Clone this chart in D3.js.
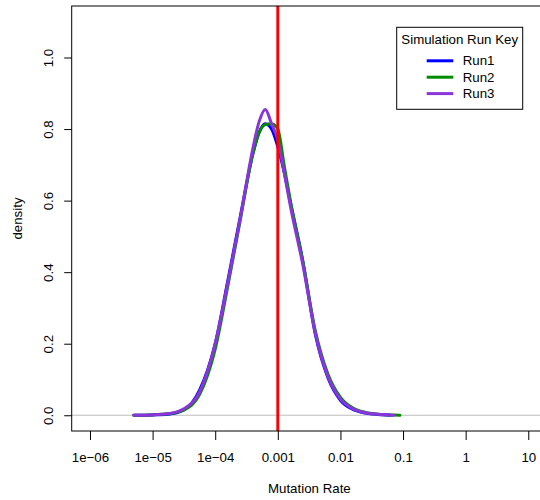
<!DOCTYPE html>
<html lang="en">
<head>
	<meta charset="utf-8">
	<title>Mutation Rate density</title>
	<script src="https://d3js.org/d3.v7.min.js"></script>
	<style>
		body { margin: 0; background: #fff; }
		svg text { font-family: "Liberation Sans", Arial, Helvetica, sans-serif; font-size: 13.3px; fill: #000; }
	</style>
</head>
<body>
	<div id="chart"></div>
	<script>
		// log10 of mutation rate where the densities were read
		var logRate = [-5.3, -5.0, -4.75, -4.5, -4.25, -4.0, -3.8, -3.6, -3.4, -3.3, -3.2, -3.1, -3.0, -2.9, -2.8, -2.6, -2.4, -2.2, -2.0, -1.8, -1.6, -1.4, -1.2, -1.15, -1.05];
		var run1 = [0.0, 0.001, 0.003, 0.015, 0.07, 0.2, 0.375, 0.555, 0.73, 0.79, 0.815, 0.8, 0.75, 0.68, 0.595, 0.43, 0.225, 0.105, 0.042, 0.016, 0.006, 0.002, 0.0, null, null];
		var run2 = [0.0, 0.001, 0.004, 0.015, 0.058, 0.185, 0.36, 0.545, 0.73, 0.79, 0.813, 0.815, 0.8, 0.7, 0.6, 0.43, 0.235, 0.115, 0.05, 0.02, 0.008, 0.003, 0.001, 0.001, 0.0];
		var run3 = [0.0, 0.001, 0.004, 0.018, 0.065, 0.2, 0.37, 0.55, 0.745, 0.82, 0.855, 0.815, 0.77, 0.68, 0.585, 0.42, 0.228, 0.108, 0.045, 0.018, 0.007, 0.003, 0.001, 0.0, null];
		var runNames = ["Run1", "Run2", "Run3"];
		var runColors = ["#0000ff", "#008b00", "#8a35db"];
		var xTickValues = [1e-6, 1e-5, 1e-4, 1e-3, 1e-2, 1e-1, 1, 10];
		var xTickLabels = ["1e\u221206", "1e\u221205", "1e\u221204", "0.001", "0.01", "0.1", "1", "10"];
		var yTickValues = [0, 0.2, 0.4, 0.6, 0.8, 1.0];
		var refRate = 0.001;

		const width = 540;
		const height = 500;
		const plotLeft = 71.7, plotRight = 547, plotTop = 6, plotBottom = 431;

		var svg = d3.select("#chart")
					.append("svg")
					.attr("width", width)
					.attr("height", height);

		var x = d3.scaleLog()
				  .domain([Math.pow(10, -6.292), Math.pow(10, 1.299)])
				  .range([plotLeft, plotRight]);
		var y = d3.scaleLinear()
				  .domain([-0.044, 1.144])
				  .range([plotBottom, plotTop]);

		// zero reference line
		svg.append("line")
		   .attr("x1", plotLeft).attr("x2", plotRight)
		   .attr("y1", y(0)).attr("y2", y(0))
		   .attr("stroke", "#bebebe")
		   .attr("stroke-width", 1);

		var line = d3.line()
					 .defined(function(d) { return d[1] !== null; })
					 .x(function(d) { return x(Math.pow(10, d[0])); })
					 .y(function(d) { return y(d[1]); })
					 .curve(d3.curveMonotoneX);

		[run1, run2, run3].forEach(function(run, i) {
			svg.append("path")
			   .datum(logRate.map(function(l, j) { return [l, run[j]]; }))
			   .attr("fill", "none")
			   .attr("stroke", runColors[i])
			   .attr("stroke-width", 3)
			   .attr("stroke-linejoin", "round")
			   .attr("stroke-linecap", "round")
			   .attr("d", line);
		});

		// reference mutation rate
		svg.append("line")
		   .attr("x1", x(refRate)).attr("x2", x(refRate))
		   .attr("y1", plotTop).attr("y2", plotBottom)
		   .attr("stroke", "#ff0000")
		   .attr("stroke-width", 3);

		// plot frame
		svg.append("rect")
		   .attr("x", plotLeft).attr("y", plotTop)
		   .attr("width", plotRight - plotLeft).attr("height", plotBottom - plotTop)
		   .attr("fill", "none")
		   .attr("stroke", "#000")
		   .attr("stroke-width", 1);

		var xAxis = d3.axisBottom(x)
					  .tickValues(xTickValues)
					  .tickFormat(function(d, i) { return xTickLabels[i]; })
					  .tickSize(9)
					  .tickPadding(12.5);
		var gx = svg.append("g")
					.attr("transform", "translate(0," + plotBottom + ")")
					.call(xAxis);
		gx.select(".domain").remove();
		gx.attr("font-size", null).attr("font-family", null);

		var yAxis = d3.axisLeft(y)
					  .tickValues(yTickValues)
					  .tickFormat(d3.format(".1f"))
					  .tickSize(7.5);
		var gy = svg.append("g")
					.attr("transform", "translate(" + plotLeft + ",0)")
					.call(yAxis);
		gy.select(".domain").remove();
		gy.attr("font-size", null).attr("font-family", null);
		gy.selectAll("text")
		  .attr("x", null).attr("dy", null)
		  .attr("text-anchor", "middle")
		  .attr("transform", "translate(-18.7,0) rotate(-90)");

		svg.append("text")
		   .attr("x", (plotLeft + plotRight) / 2)
		   .attr("y", 493)
		   .attr("text-anchor", "middle")
		   .text("Mutation Rate");
		svg.append("text")
		   .attr("text-anchor", "middle")
		   .attr("transform", "translate(22," + ((plotTop + plotBottom) / 2) + ") rotate(-90)")
		   .text("density");

		// legend
		var legend = svg.append("g").attr("transform", "translate(396.7,27.3)");
		legend.append("rect")
			  .attr("width", 126).attr("height", 82)
			  .attr("fill", "#fff")
			  .attr("stroke", "#000");
		legend.append("text")
			  .attr("x", 63).attr("y", 17)
			  .attr("text-anchor", "middle")
			  .text("Simulation Run Key");
		runNames.forEach(function(name, i) {
			var ly = 33.5 + i * 16.4;
			legend.append("line")
				  .attr("x1", 30).attr("x2", 56.6)
				  .attr("y1", ly).attr("y2", ly)
				  .attr("stroke", runColors[i])
				  .attr("stroke-width", 3);
			legend.append("text")
				  .attr("x", 66).attr("y", ly + 4.7)
				  .text(name);
		});
	</script>
</body>
</html>
